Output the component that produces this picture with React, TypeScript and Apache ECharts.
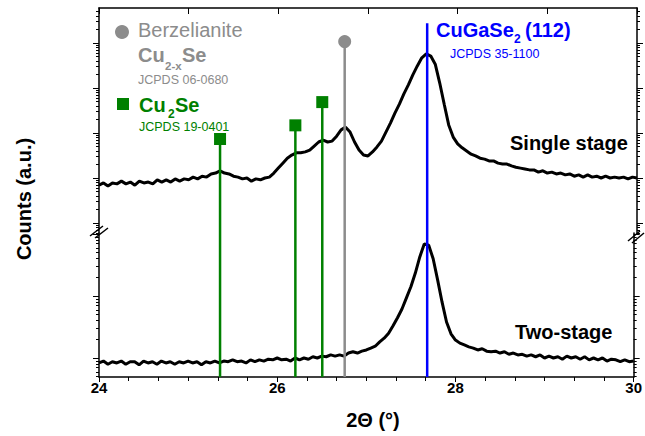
import React, { useEffect, useRef } from 'react';
import * as echarts from 'echarts';

// 2θ sampling (degrees)
const twoTheta = [
  24.0, 24.05, 24.1, 24.15, 24.2, 24.25, 24.3, 24.35, 24.4, 24.45,
  24.5, 24.55, 24.6, 24.65, 24.7, 24.75, 24.8, 24.85, 24.9, 24.95,
  25.0, 25.05, 25.1, 25.15, 25.2, 25.25, 25.3, 25.35, 25.4, 25.45,
  25.5, 25.55, 25.6, 25.65, 25.7, 25.75, 25.8, 25.85, 25.9, 25.95,
  26.0, 26.05, 26.1, 26.15, 26.2, 26.25, 26.3, 26.35, 26.4, 26.45,
  26.5, 26.55, 26.6, 26.65, 26.7, 26.75, 26.8, 26.85, 26.9, 26.95,
  27.0, 27.05, 27.1, 27.15, 27.2, 27.25, 27.3, 27.35, 27.4, 27.45,
  27.5, 27.55, 27.6, 27.65, 27.7, 27.75, 27.8, 27.85, 27.9, 27.95,
  28.0, 28.05, 28.1, 28.15, 28.2, 28.25, 28.3, 28.35, 28.4, 28.45,
  28.5, 28.55, 28.6, 28.65, 28.7, 28.75, 28.8, 28.85, 28.9, 28.95,
  29.0, 29.05, 29.1, 29.15, 29.2, 29.25, 29.3, 29.35, 29.4, 29.45,
  29.5, 29.55, 29.6, 29.65, 29.7, 29.75, 29.8, 29.85, 29.9, 29.95,
  30.0,
];

// log10(counts, a.u.) — single stage (upper panel)
const singleStageLog = [
  1.84, 1.89, 1.82, 1.89, 1.87, 1.93, 1.87, 1.91, 1.84, 1.93,
  1.89, 1.91, 1.87, 1.96, 1.91, 1.96, 1.91, 1.98, 1.93, 1.98,
  1.96, 2.02, 1.98, 2.04, 2.02, 2.09, 2.11, 2.16, 2.11, 2.09,
  2.04, 2.02, 1.98, 2.0, 1.93, 1.98, 1.96, 2.0, 2.02, 2.11,
  2.22, 2.33, 2.44, 2.51, 2.56, 2.56, 2.58, 2.62, 2.71, 2.8,
  2.84, 2.8, 2.82, 2.93, 3.07, 3.13, 3.02, 2.8, 2.62, 2.51,
  2.49, 2.58, 2.69, 2.82, 3.02, 3.22, 3.44, 3.64, 3.87, 4.07,
  4.29, 4.49, 4.67, 4.76, 4.71, 4.53, 4.11, 3.64, 3.18, 2.91,
  2.76, 2.67, 2.6, 2.53, 2.49, 2.44, 2.42, 2.38, 2.38, 2.33,
  2.31, 2.31, 2.27, 2.24, 2.22, 2.2, 2.18, 2.18, 2.13, 2.16,
  2.11, 2.13, 2.09, 2.11, 2.07, 2.09, 2.04, 2.07, 2.02, 2.07,
  2.02, 2.04, 2.0, 2.04, 2.0, 2.02, 2.0, 2.02, 1.98, 2.02,
  2.0,
];

// log10(counts, a.u.) — two-stage (lower panel)
const twoStageLog = [
  0.92, 0.95, 0.9, 0.94, 0.92, 0.95, 0.9, 0.94, 0.94, 0.89,
  0.95, 0.92, 0.94, 0.9, 0.95, 0.92, 0.94, 0.9, 0.94, 0.92,
  0.95, 0.92, 0.94, 0.89, 0.94, 0.92, 0.95, 0.92, 0.95, 0.94,
  0.97, 0.94, 0.95, 0.92, 0.97, 0.94, 0.97, 0.95, 0.98, 0.97,
  1.0, 0.97, 0.98, 0.95, 1.0, 0.97, 1.0, 0.98, 1.02, 1.0,
  1.03, 1.02, 1.05, 1.03, 1.05, 1.03, 1.08, 1.1, 1.08, 1.11,
  1.13, 1.16, 1.19, 1.26, 1.32, 1.4, 1.52, 1.65, 1.79, 1.97,
  2.15, 2.37, 2.63, 2.84, 2.82, 2.6, 2.26, 1.9, 1.58, 1.39,
  1.29, 1.24, 1.21, 1.18, 1.16, 1.13, 1.15, 1.11, 1.1, 1.11,
  1.08, 1.1, 1.06, 1.08, 1.05, 1.06, 1.03, 1.05, 1.02, 1.05,
  1.0, 1.03, 1.0, 1.02, 0.98, 1.03, 1.0, 1.02, 0.98, 1.02,
  0.97, 1.0, 0.97, 1.0, 0.95, 0.98, 0.97, 0.94, 0.97, 0.94,
  0.95,
];

// Reference patterns (position in 2θ, relative marker height 0-100)
const cu2SeAngles = [25.35, 26.19, 26.49];
const cu2SeHeights = [64.5, 68.2, 74.5];
const berzelianiteAngles = [26.74];
const berzelianiteHeights = [90.9];
const cuGaSe2Angles = [27.66];
const cuGaSe2Heights = [95.9];

// Axis ranges (log10 units)
const upperRange = [0.7778, 5.7778];
const lowerRange = [0.6935, 3.0161];
const xRange = [24, 30];

const FONT = '"Liberation Sans", Arial, Helvetica, sans-serif';
const GRAY = '#8c8c8c';
const GREEN = '#008000';
const BLUE = '#0000ff';

function logTicks(min: number, max: number, major: boolean) {
  const out: number[] = [];
  for (let n = -1; n <= 7; n++) {
    for (let k = 1; k <= 9; k++) {
      if (major !== (k === 1)) continue;
      const v = n + Math.log10(k);
      if (v >= min - 1e-9 && v <= max + 1e-9) out.push(v);
    }
  }
  return out;
}

function yAx(grid: number, pos: string, range: number[], major: boolean) {
  return {
    type: 'value',
    gridIndex: grid,
    position: pos,
    min: range[0],
    max: range[1],
    axisLine: { show: major, onZero: false, lineStyle: { color: '#000', width: 1.5 } },
    axisTick: {
      show: true,
      inside: false,
      length: major ? 6 : 3,
      customValues: logTicks(range[0], range[1], major),
      lineStyle: { color: '#000', width: 1 },
    },
    axisLabel: { show: false },
    splitLine: { show: false },
  };
}

function refSeries(angle: number, h: number, color: string, symbol: string, size: number) {
  return {
    type: 'line',
    xAxisIndex: 2,
    yAxisIndex: 8,
    data: [
      { value: [angle, 0], symbol: 'none' },
      { value: [angle, h] },
    ],
    symbol,
    symbolSize: size,
    showSymbol: true,
    itemStyle: { color },
    lineStyle: { color, width: 2.5 },
    z: 5,
    silent: true,
  };
}

function txt(text: string, x: number, y: number, size: number, color: string, bold: boolean, extra: any = {}) {
  return {
    type: 'text',
    x,
    y,
    z: 100,
    ...extra,
    style: {
      text,
      fill: color,
      fontSize: size,
      fontWeight: bold ? 'bold' : 'normal',
      fontFamily: FONT,
      align: extra.align || 'left',
      verticalAlign: 'middle',
    },
  };
}

export default function App() {
  const ref = useRef<HTMLDivElement>(null);

  useEffect(() => {
    if (!ref.current) return;
    const chart = echarts.init(ref.current, null, { renderer: 'svg' });

    const series: any[] = [
      {
        type: 'line',
        xAxisIndex: 0,
        yAxisIndex: 0,
        data: twoTheta.map((x, i) => [x, singleStageLog[i]]),
        showSymbol: false,
        symbol: 'none',
        lineStyle: { color: '#000', width: 3 },
        z: 3,
      },
      {
        type: 'line',
        xAxisIndex: 1,
        yAxisIndex: 4,
        data: twoTheta.map((x, i) => [x, twoStageLog[i]]),
        showSymbol: false,
        symbol: 'none',
        lineStyle: { color: '#000', width: 3 },
        z: 3,
      },
    ];
    cu2SeAngles.forEach((a, i) => series.push(refSeries(a, cu2SeHeights[i], GREEN, 'rect', 12)));
    berzelianiteAngles.forEach((a, i) => series.push(refSeries(a, berzelianiteHeights[i], GRAY, 'circle', 13)));
    cuGaSe2Angles.forEach((a, i) => series.push(refSeries(a, cuGaSe2Heights[i], BLUE, 'none', 0)));

    const option: any = {
      animation: false,
      backgroundColor: '#fff',
      grid: [
        { left: 99, right: 8, top: 8, height: 225 },
        { left: 99, right: 8, top: 233, height: 144 },
        { left: 99, right: 8, top: 8, height: 369, show: false },
      ],
      xAxis: [
        {
          type: 'value',
          gridIndex: 0,
          position: 'top',
          min: xRange[0],
          max: xRange[1],
          interval: 1,
          axisLine: { show: true, onZero: false, lineStyle: { color: '#000', width: 1.5 } },
          axisTick: { show: true, inside: true, length: 6, lineStyle: { color: '#000', width: 1 } },
          axisLabel: { show: false },
          splitLine: { show: false },
        },
        {
          type: 'value',
          gridIndex: 1,
          position: 'bottom',
          min: xRange[0],
          max: xRange[1],
          interval: 2,
          axisLine: { show: true, onZero: false, lineStyle: { color: '#000', width: 1.5 } },
          axisTick: { show: true, inside: false, length: 5, lineStyle: { color: '#000', width: 1 } },
          minorTick: { show: true, splitNumber: 6, length: 4, lineStyle: { color: '#000', width: 1 } },
          axisLabel: {
            show: true,
            margin: 3,
            color: '#000',
            fontSize: 15,
            fontWeight: 'bold',
            fontFamily: FONT,
            formatter: (v: number) => String(Math.round(v)),
          },
          splitLine: { show: false },
          minorSplitLine: { show: false },
        },
        {
          type: 'value',
          gridIndex: 2,
          min: xRange[0],
          max: xRange[1],
          show: false,
        },
      ],
      yAxis: [
        yAx(0, 'left', upperRange, true),
        yAx(0, 'left', upperRange, false),
        yAx(0, 'right', upperRange, true),
        yAx(0, 'right', upperRange, false),
        yAx(1, 'left', lowerRange, true),
        yAx(1, 'left', lowerRange, false),
        yAx(1, 'right', lowerRange, true),
        yAx(1, 'right', lowerRange, false),
        { type: 'value', gridIndex: 2, min: 0, max: 100, show: false },
      ],
      series,
      graphic: [
        // legend markers
        { type: 'circle', z: 100, shape: { cx: 122, cy: 32, r: 7 }, style: { fill: GRAY } },
        { type: 'rect', z: 100, shape: { x: 117, y: 98, width: 12, height: 12 }, style: { fill: GREEN } },
        txt('Berzelianite', 138, 30, 20, GRAY, false),
        txt('Cu', 138, 55, 20, GRAY, true),
        txt('2-x', 165, 66, 11.5, GRAY, true),
        txt('Se', 182, 55, 20, GRAY, true),
        txt('JCPDS 06-0680', 138, 79.5, 12.5, GRAY, false),
        txt('Cu', 139, 105, 20, GREEN, true),
        txt('2', 168, 114, 12, GREEN, true),
        txt('Se', 175, 105, 20, GREEN, true),
        txt('JCPDS 19-0401', 139, 127, 12.5, GREEN, false),
        txt('CuGaSe', 436, 30, 20, BLUE, true),
        txt('2', 514, 39, 12, BLUE, true),
        txt('(112)', 525, 30, 20, BLUE, true),
        txt('JCPDS 35-1100', 450, 54, 12.5, BLUE, false),
        txt('Single stage', 510, 143, 20, '#000', true),
        txt('Two-stage', 515, 332, 20, '#000', true),
        txt('2\u0398 (\u00b0)', 373, 420, 20, '#000', true, { align: 'center' }),
        txt('Counts (a.u.)', 24, 199, 20, '#000', true, { align: 'center', rotation: Math.PI / 2 }),
        // axis break marks
        { type: 'line', z: 100, shape: { x1: 90, y1: 236, x2: 103, y2: 226 }, style: { stroke: '#000', lineWidth: 1.5 } },
        { type: 'line', z: 100, shape: { x1: 95, y1: 238, x2: 108, y2: 228 }, style: { stroke: '#000', lineWidth: 1.5 } },
        { type: 'line', z: 100, shape: { x1: 628, y1: 241, x2: 640, y2: 231 }, style: { stroke: '#000', lineWidth: 1.5 } },
        { type: 'line', z: 100, shape: { x1: 632, y1: 243, x2: 644, y2: 233 }, style: { stroke: '#000', lineWidth: 1.5 } },
      ],
    };

    chart.setOption(option);
    return () => chart.dispose();
  }, []);

  return (
    <div
      ref={ref}
      style={{ position: 'fixed', left: 0, top: 0, width: 645, height: 436, background: '#fff' }}
    />
  );
}
